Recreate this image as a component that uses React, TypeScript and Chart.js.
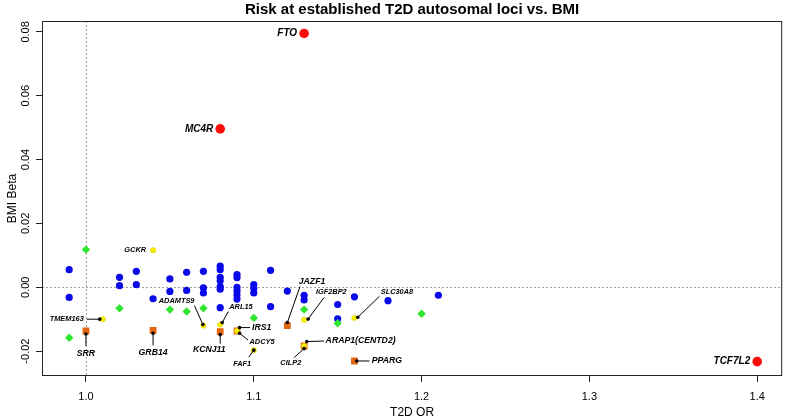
import React, { useEffect, useRef } from "react";
import { Chart, registerables } from "chart.js";

Chart.register(...registerables);

// ---------- data ----------
const chartTitle = "Risk at established T2D autosomal loci vs. BMI";
const xTitle = "T2D OR";
const yTitle = "BMI Beta";

const xMin = 0.9738;
const xMax = 1.4149;
const yMin = -0.0278;
const yMax = 0.0834;
const xTicks = [1.0, 1.1, 1.2, 1.3, 1.4];
const xTickLabels = ["1.0", "1.1", "1.2", "1.3", "1.4"];
const yTicks = [-0.02, 0.0, 0.02, 0.04, 0.06, 0.08];
const yTickLabels = ["-0.02", "0.00", "0.02", "0.04", "0.06", "0.08"];
const refX = 1.0;
const refY = 0.0;

const blueX = [
  0.99, 0.99, 1.02, 1.02, 1.03, 1.03, 1.04, 1.05, 1.05, 1.06, 1.06, 1.07, 1.07, 1.07,
  1.08, 1.08, 1.08, 1.08, 1.08, 1.08, 1.08, 1.09, 1.09, 1.09, 1.09, 1.09, 1.09,
  1.1, 1.1, 1.1, 1.11, 1.11, 1.12, 1.13, 1.13, 1.15, 1.15, 1.16, 1.18, 1.21,
];
const blueY = [
  0.0055, -0.0032, 0.0031, 0.0005, 0.005, 0.0008, -0.0036, 0.0026, -0.0013, 0.0047, -0.001,
  0.005, -0.0002, -0.0018, 0.0066, 0.0055, 0.0031, 0.002, 0.0002, -0.0006, -0.0064,
  0.004, 0.003, 0.0, -0.0012, -0.0024, -0.0037, 0.0008, -0.0004, -0.0018, 0.0053, -0.0061,
  -0.0012, -0.0025, -0.004, -0.0054, -0.0099, -0.003, -0.0042, -0.0025,
];

const greenX = [0.99, 1.0, 1.02, 1.05, 1.06, 1.07, 1.1, 1.13, 1.15, 1.2];
const greenY = [-0.0158, 0.0118, -0.0066, -0.007, -0.0076, -0.0066, -0.0096, -0.007, -0.0113, -0.0083];

const yellowGenes = ["GCKR", "TMEM163", "ADAMTS9", "ARL15", "ADCY5", "FAF1", "IGF2BP2", "CILP2", "SLC30A8"];
const yellowX = [1.04, 1.01, 1.07, 1.08, 1.09, 1.1, 1.13, 1.13, 1.16];
const yellowY = [0.0116, -0.01, -0.012, -0.0117, -0.0137, -0.0197, -0.0102, -0.0184, -0.0096];

const orangeGenes = ["SRR", "GRB14", "KCNJ11", "IRS1", "JAZF1", "ARAP1(CENTD2)", "PPARG"];
const orangeX = [1.0, 1.04, 1.08, 1.09, 1.12, 1.13, 1.16];
const orangeY = [-0.0137, -0.0135, -0.0139, -0.0137, -0.012, -0.0184, -0.0231];

const redGenes = ["FTO", "MC4R", "TCF7L2"];
const redX = [1.13, 1.08, 1.4];
const redY = [0.0795, 0.0496, -0.0233];

// ---------- label layout (pixel offsets from the point) ----------
type Lab = {
  dot?: [number, number];
  line?: [number, number];
  text: [number, number];
  align: CanvasTextAlign;
  size: number;
};
const SMALL = 7.4;
const MED = 8.7;
const BIG = 10;
const labelLayout: Record<string, Lab> = {
  FTO: { text: [-7, 0], align: "right", size: BIG },
  MC4R: { text: [-7, 0], align: "right", size: BIG },
  TCF7L2: { text: [-7, 0], align: "right", size: BIG },
  GCKR: { text: [-7, 0], align: "right", size: SMALL },
  TMEM163: { dot: [-3, 0], line: [-16, 0], text: [-19, 0], align: "right", size: SMALL },
  SRR: { dot: [0, 3], line: [0, 15], text: [0, 22.5], align: "center", size: MED },
  GRB14: { dot: [0, 3], line: [0, 15], text: [0, 22.5], align: "center", size: MED },
  ADAMTS9: { dot: [-0.5, -1], line: [-9, -20], text: [-9, -25], align: "right", size: SMALL },
  ARL15: { dot: [2, -2], line: [8, -13], text: [9, -17.5], align: "left", size: SMALL },
  KCNJ11: { dot: [0, 3], line: [0, 12], text: [-11, 17.5], align: "center", size: MED },
  IRS1: { dot: [2.6, -3.4], line: [13, -3.4], text: [15, -3.4], align: "left", size: MED },
  ADCY5: { dot: [2.6, 2.3], line: [11, 9], text: [12.5, 11], align: "left", size: SMALL },
  KLF14: { dot: [2.4, -1.6], line: [18.4, -31.5], text: [24.7, -36.6], align: "center", size: SMALL },
  FAF1: { dot: [0, 0], line: [-5, 7], text: [-11.6, 14.3], align: "center", size: SMALL },
  JAZF1: { dot: [0, -3], line: [12.7, -39], text: [24.7, -44.3], align: "center", size: MED },
  IGF2BP2: { dot: [4, -0.7], line: [20, -22.4], text: [27.2, -27.4], align: "center", size: SMALL },
  SLC30A8: { dot: [3.3, -0.6], line: [25, -21.6], text: [42.5, -25.6], align: "center", size: SMALL },
  "ARAP1(CENTD2)": { dot: [2.7, -4.4], line: [20, -5], text: [21.5, -5], align: "left", size: MED },
  CILP2: { dot: [0, 2.6], line: [-10, 11.6], text: [-13.3, 16.6], align: "center", size: SMALL },
  PPARG: { dot: [2.3, 0], line: [15, 0], text: [17.3, 0], align: "left", size: MED },
};

const FONT = '"Liberation Sans", Arial, Helvetica, sans-serif';

const toPts = (xs: number[], ys: number[]) => xs.map((x, i) => ({ x, y: ys[i] }));

const rPlugin = {
  id: "rstyle",
  beforeDatasetsDraw(chart: any) {
    const { ctx, chartArea: a, scales } = chart;
    const x = scales.x;
    const y = scales.y;
    ctx.save();
    ctx.strokeStyle = "#a0a0a0";
    ctx.lineWidth = 1;
    ctx.setLineDash([2, 2]);
    const gx = Math.round(x.getPixelForValue(refX)) + 0.5;
    const gy = Math.round(y.getPixelForValue(refY)) + 0.5;
    ctx.beginPath();
    ctx.moveTo(gx, a.top);
    ctx.lineTo(gx, a.bottom);
    ctx.moveTo(a.left, gy);
    ctx.lineTo(a.right, gy);
    ctx.stroke();
    ctx.restore();
  },
  afterDatasetsDraw(chart: any) {
    const { ctx, scales } = chart;
    const x = scales.x;
    const y = scales.y;
    const groups: [string[], number[], number[]][] = [
      [yellowGenes, yellowX, yellowY],
      [orangeGenes, orangeX, orangeY],
      [redGenes, redX, redY],
    ];
    ctx.save();
    for (const [genes, xs, ys] of groups) {
      genes.forEach((g, i) => {
        const L = labelLayout[g];
        if (!L) return;
        const px = x.getPixelForValue(xs[i]);
        const py = y.getPixelForValue(ys[i]);
        if (L.dot && L.line) {
          ctx.strokeStyle = "#000";
          ctx.lineWidth = 1;
          ctx.beginPath();
          ctx.moveTo(px + L.dot[0], py + L.dot[1]);
          ctx.lineTo(px + L.line[0], py + L.line[1]);
          ctx.stroke();
        }
        if (L.dot) {
          ctx.fillStyle = "#000";
          ctx.beginPath();
          ctx.arc(px + L.dot[0], py + L.dot[1], 1.8, 0, Math.PI * 2);
          ctx.fill();
        }
        ctx.fillStyle = "#000";
        ctx.font = `italic bold ${L.size}px ${FONT}`;
        ctx.textAlign = L.align;
        ctx.textBaseline = "middle";
        ctx.fillText(g, px + L.text[0], py + L.text[1]);
      });
    }
    ctx.restore();
  },
  afterDraw(chart: any) {
    const { ctx, chartArea: a, scales } = chart;
    const x = scales.x;
    const y = scales.y;
    ctx.save();
    // box
    ctx.strokeStyle = "#222";
    ctx.lineWidth = 1;
    ctx.setLineDash([]);
    ctx.strokeRect(a.left + 0.5, a.top + 0.5, a.right - a.left - 1, a.bottom - a.top - 1);
    ctx.fillStyle = "#000";
    // title
    ctx.font = `bold 15px ${FONT}`;
    ctx.textAlign = "center";
    ctx.textBaseline = "middle";
    ctx.fillText(chartTitle, (a.left + a.right) / 2, 10);
    // x tick labels
    ctx.font = `11px ${FONT}`;
    xTicks.forEach((v, i) => {
      ctx.fillText(xTickLabels[i], x.getPixelForValue(v), 397);
    });
    // x title
    ctx.font = `12px ${FONT}`;
    ctx.fillText(xTitle, (a.left + a.right) / 2, 413);
    // y tick labels (rotated)
    ctx.font = `11px ${FONT}`;
    yTicks.forEach((v, i) => {
      ctx.save();
      ctx.translate(26, y.getPixelForValue(v));
      ctx.rotate(-Math.PI / 2);
      ctx.fillText(yTickLabels[i], 0, 0);
      ctx.restore();
    });
    // y title
    ctx.save();
    ctx.font = `12px ${FONT}`;
    ctx.translate(13, (a.top + a.bottom) / 2);
    ctx.rotate(-Math.PI / 2);
    ctx.fillText(yTitle, 0, 0);
    ctx.restore();
    ctx.restore();
  },
};

export default function App() {
  const ref = useRef<HTMLCanvasElement | null>(null);
  useEffect(() => {
    if (!ref.current) return;
    const chart = new Chart(ref.current, {
      type: "scatter",
      data: {
        datasets: [
          {
            label: "red",
            data: toPts(redX, redY),
            pointStyle: "circle",
            pointRadius: 4.8,
            backgroundColor: "#ff0a0a",
            borderWidth: 0,
            order: 1,
          },
          {
            label: "yellow",
            data: toPts(yellowX, yellowY),
            pointStyle: "circle",
            pointRadius: 2.7,
            backgroundColor: "#f6ee00",
            borderColor: "#e0c800",
            borderWidth: 0.5,
            order: 2,
          },
          {
            label: "orange",
            data: toPts(orangeX, orangeY),
            pointStyle: "rect",
            pointRadius: 4.8,
            backgroundColor: "#e5650f",
            borderWidth: 0,
            order: 3,
          },
          {
            label: "green",
            data: toPts(greenX, greenY),
            pointStyle: "rectRot",
            pointRadius: 4.2,
            backgroundColor: "#2ee62e",
            borderWidth: 0,
            order: 4,
          },
          {
            label: "blue",
            data: toPts(blueX, blueY),
            pointStyle: "circle",
            pointRadius: 3.6,
            backgroundColor: "#0808e8",
            borderWidth: 0,
            order: 5,
          },
        ],
      },
      options: {
        responsive: false,
        animation: false,
        events: [],
        layout: { padding: { top: 21, right: 4, left: 0, bottom: 0 } },
        plugins: {
          legend: { display: false },
          title: { display: false },
          tooltip: { enabled: false },
        },
        scales: {
          x: {
            type: "linear",
            min: xMin,
            max: xMax,
            afterBuildTicks: (s: any) => {
              s.ticks = xTicks.map((v) => ({ value: v }));
            },
            afterFit: (s: any) => {
              s.height = 44;
            },
            ticks: { color: "rgba(0,0,0,0)", autoSkip: false, font: { size: 11 } },
            grid: {
              drawOnChartArea: false,
              drawTicks: true,
              tickLength: 6,
              color: "#222",
              lineWidth: 1,
            },
            border: { display: false },
          },
          y: {
            type: "linear",
            min: yMin,
            max: yMax,
            afterBuildTicks: (s: any) => {
              s.ticks = yTicks.map((v) => ({ value: v }));
            },
            afterFit: (s: any) => {
              s.width = 42;
            },
            ticks: { color: "rgba(0,0,0,0)", autoSkip: false, font: { size: 11 } },
            grid: {
              drawOnChartArea: false,
              drawTicks: true,
              tickLength: 6,
              color: "#222",
              lineWidth: 1,
            },
            border: { display: false },
          },
        },
      },
      plugins: [rPlugin],
    });
    return () => chart.destroy();
  }, []);
  return (
    <div style={{ position: "fixed", left: 0, top: 0, width: 787, height: 420, background: "#fff" }}>
      <canvas ref={ref} width={787} height={420} style={{ display: "block" }} />
    </div>
  );
}
